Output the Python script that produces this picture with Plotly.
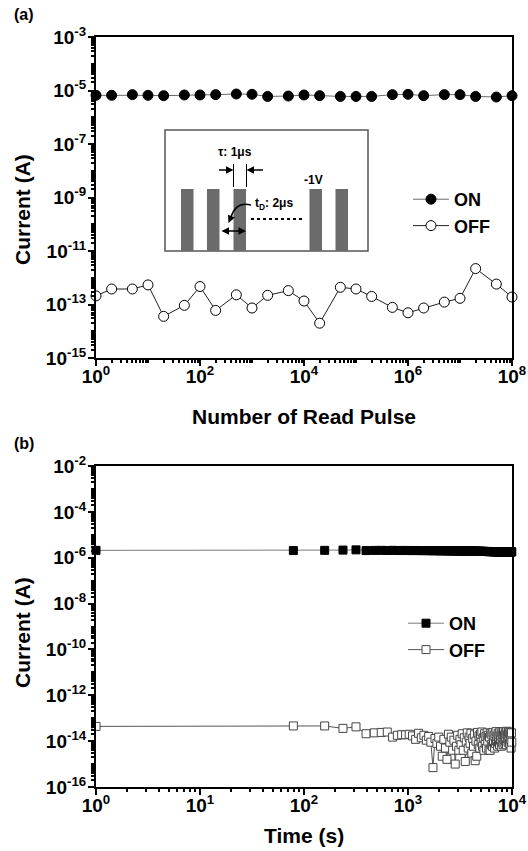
import plotly.graph_objects as go

# ---------------- panel (a): read-pulse endurance ----------------
pulses_a = [1, 2, 5, 10, 20, 50, 100, 200, 500, 1e3, 2e3, 5e3, 1e4, 2e4, 5e4,
            1e5, 2e5, 5e5, 1e6, 2e6, 5e6, 1e7, 2e7, 5e7, 1e8]
on_a = [6.6e-6, 6.6e-6, 7.0e-6, 6.6e-6, 6.4e-6, 6.8e-6, 6.8e-6, 7.0e-6, 7.4e-6,
        7.2e-6, 6.0e-6, 6.2e-6, 6.8e-6, 6.4e-6, 6.0e-6, 6.0e-6, 6.0e-6, 7.0e-6,
        7.2e-6, 6.4e-6, 7.0e-6, 7.0e-6, 6.0e-6, 5.7e-6, 6.4e-6]
off_a = [2.1e-13, 3.8e-13, 3.8e-13, 5.4e-13, 3.6e-14, 9.3e-14, 4.7e-13, 6.0e-14,
         2.3e-13, 7.4e-14, 2.2e-13, 3.3e-13, 1.35e-13, 2.0e-14, 4.4e-13, 3.8e-13,
         2.0e-13, 7.8e-14, 4.9e-14, 7.4e-14, 1.23e-13, 1.7e-13, 2.2e-12, 5.8e-13,
         1.9e-13]

# tick labels
xtick_exp_a = [0, 2, 4, 6, 8]
ytick_exp_a = [-15, -13, -11, -9, -7, -5, -3]
xtick_exp_b = [0, 1, 2, 3, 4]
ytick_exp_b = [-16, -14, -12, -10, -8, -6, -4, -2]

# ---------------- panel (b): retention ----------------
time_b = [1, 79, 158, 237, 316, 395, 474, 553, 632, 711, 790, 869, 948, 1027, 1106,
          1185, 1264, 1343, 1422, 1501, 1580, 1659, 1738, 1817, 1896, 1975, 2054,
          2133, 2212, 2291, 2370, 2449, 2528, 2607, 2686, 2765, 2844, 2923, 3002,
          3081, 3160, 3239, 3318, 3397, 3476, 3555, 3634, 3713, 3792, 3871, 3950,
          4029, 4108, 4187, 4266, 4345, 4424, 4503, 4582, 4661, 4740, 4819, 4898,
          4977, 5056, 5135, 5214, 5293, 5372, 5451, 5530, 5609, 5688, 5767, 5846,
          5925, 6004, 6083, 6162, 6241, 6320, 6399, 6478, 6557, 6636, 6715, 6794,
          6873, 6952, 7031, 7110, 7189, 7268, 7347, 7426, 7505, 7584, 7663, 7742,
          7821, 7900, 7979, 8058, 8137, 8216, 8295, 8374, 8453, 8532, 8611, 8690,
          8769, 8848, 8927, 9006, 9085, 9164, 9243, 9322, 9401, 9480, 9559, 9638,
          9717, 9796, 9875, 9954]
# ON current in microamps
on_b_uA = [2.10, 2.05, 2.10, 2.15, 2.20, 2.05, 2.08, 2.10, 2.06, 2.09,
           2.07, 2.05, 2.08, 2.06, 2.04, 2.07, 2.05, 2.03, 2.06, 2.04,
           2.02, 2.05, 2.03, 2.01, 2.04, 2.02, 2.00, 2.03, 2.01, 2.00,
           2.02, 2.00, 1.99, 2.01, 1.99, 1.98, 2.00, 1.98, 1.97, 1.99,
           1.97, 1.96, 1.98, 1.96, 1.95, 1.97, 1.95, 1.94, 1.96, 1.94,
           1.93, 1.95, 1.93, 1.92, 1.94, 1.92, 1.91, 1.93, 1.91, 1.90,
           1.92, 1.90, 1.89, 1.91, 1.89, 1.88, 1.90, 1.88, 1.87, 1.89,
           1.87, 1.86, 1.88, 1.86, 1.85, 1.87, 1.85, 1.84, 1.86, 1.84,
           1.85, 1.86, 1.84, 1.83, 1.85, 1.84, 1.82, 1.84, 1.83, 1.82,
           1.84, 1.82, 1.81, 1.83, 1.82, 1.83, 1.81, 1.83, 1.82, 1.80,
           1.82, 1.81, 1.80, 1.82, 1.81, 1.82, 1.80, 1.82, 1.81, 1.79,
           1.81, 1.80, 1.81, 1.79, 1.81, 1.80, 1.79, 1.81, 1.80, 1.80,
           1.79, 1.81, 1.80, 1.78, 1.80, 1.79, 1.80]
# OFF current in femtoamps
off_b_fA = [44, 46, 46, 36, 42, 21, 23, 24, 25, 15,
            18, 19, 19, 20, 17, 12, 22, 14, 18, 11,
            16, 9, 0.7, 13, 8, 15, 6, 2.2, 12, 5,
            1.6, 20, 9, 15, 4, 11, 1.0, 6, 18, 4,
            12, 7, 21, 4, 14, 1.3, 9, 23, 5, 15,
            8, 22, 3, 13, 6, 19, 1.4, 10, 2.2, 24,
            7, 17, 5, 20, 9, 25, 6, 14, 4, 21,
            8, 16, 5, 23, 10, 18, 4, 15, 4, 22,
            7, 19, 6, 24, 9, 17, 5, 21, 8, 26,
            10, 16, 6, 22, 9, 19, 7, 25, 11, 17,
            6, 23, 9, 20, 7, 26, 12, 18, 8, 24,
            10, 21, 7, 27, 13, 19, 9, 25, 11, 22,
            8, 24, 12, 20, 5, 23, 9]

on_b = [v * 1e-6 for v in on_b_uA]
off_b = [v * 1e-15 for v in off_b_fA]

# ---------------- layout geometry (pixels) ----------------
W, H = 528, 851
L, R, T, B = 96, 512, 37, 787          # outer plotting box
A_BOTTOM, B_TOP = 358, 466             # panel split


def fx(px):
    return (px - L) / (R - L)


def fy(py):
    return (B - py) / (B - T)


def pow_ticks(exps):
    vals = [10.0 ** e for e in exps]
    text = [f"10<sup>{e}</sup>" for e in exps]
    return vals, text


FONT = "Liberation Sans"
BLACK = "#000000"

fig = go.Figure()

fig.add_trace(go.Scatter(
    x=pulses_a, y=on_a, name="ON", mode="lines+markers", cliponaxis=False,
    line=dict(color="#6a6a6a", width=1),
    marker=dict(symbol="circle", size=10, color=BLACK, line=dict(color=BLACK, width=1)),
    xaxis="x", yaxis="y", legend="legend"))
fig.add_trace(go.Scatter(
    x=pulses_a, y=off_a, name="OFF", mode="lines+markers", cliponaxis=False,
    line=dict(color="#222222", width=1),
    marker=dict(symbol="circle", size=10, color="white", line=dict(color=BLACK, width=1)),
    xaxis="x", yaxis="y", legend="legend"))

fig.add_trace(go.Scatter(
    x=time_b, y=on_b, name="ON", mode="lines+markers", cliponaxis=False,
    line=dict(color="#7a7a7a", width=1),
    marker=dict(symbol="square", size=8, color=BLACK, line=dict(color=BLACK, width=1)),
    xaxis="x2", yaxis="y2", legend="legend2"))
fig.add_trace(go.Scatter(
    x=time_b, y=off_b, name="OFF", mode="lines+markers", cliponaxis=False,
    line=dict(color="#555555", width=1),
    marker=dict(symbol="square", size=8, color="white", line=dict(color="#444444", width=1)),
    xaxis="x2", yaxis="y2", legend="legend2"))

tickfont = dict(family=FONT, size=19, color=BLACK, weight="bold")
axis_common = dict(
    type="log", showline=True, linecolor=BLACK, linewidth=2, mirror=True,
    ticks="outside", ticklen=6, tickwidth=2, tickcolor=BLACK, automargin=False,
    showgrid=False, zeroline=False, tickfont=tickfont, tickmode="array",
    minor=dict(ticks="outside", ticklen=3, tickwidth=1.5, tickcolor=BLACK,
               tickmode="linear", tick0=0, dtick="D1", showgrid=False),
)

xa_v, xa_t = pow_ticks(xtick_exp_a)
ya_v, ya_t = pow_ticks(ytick_exp_a)
xb_v, xb_t = pow_ticks(xtick_exp_b)
yb_v, yb_t = pow_ticks(ytick_exp_b)

fig.update_layout(
    width=W, height=H,
    margin=dict(l=L, r=W - R, t=T, b=H - B, pad=0),
    paper_bgcolor="white", plot_bgcolor="white",
    xaxis=dict(axis_common, domain=[0, 1], anchor="y", range=[0, 8],
               tickvals=xa_v, ticktext=xa_t, ticklabelstandoff=-6),
    yaxis=dict(axis_common, domain=[fy(A_BOTTOM), 1], anchor="x", range=[-15, -3],
               tickvals=ya_v, ticktext=ya_t, ticklabelstandoff=-2),
    xaxis2=dict(axis_common, domain=[0, 1], anchor="y2", range=[0, 4],
                tickvals=xb_v, ticktext=xb_t, ticklabelstandoff=-6),
    yaxis2=dict(axis_common, domain=[0, fy(B_TOP)], anchor="x2", range=[-16, -2],
                tickvals=yb_v, ticktext=yb_t, ticklabelstandoff=-2),
    legend=dict(x=fx(408), y=fy(181), xanchor="left", yanchor="top",
                bgcolor="rgba(0,0,0,0)", font=dict(family=FONT, size=18, color=BLACK, weight="bold"),
                itemwidth=36, tracegroupgap=0),
    legend2=dict(x=fx(403), y=fy(605), xanchor="left", yanchor="top",
                 bgcolor="rgba(0,0,0,0)", font=dict(family=FONT, size=18, color=BLACK, weight="bold"),
                 itemwidth=36, tracegroupgap=0),
    showlegend=True,
)

ann = []
title_font = dict(family=FONT, size=21, color=BLACK, weight="bold")
label_font = dict(family=FONT, size=16, color=BLACK, weight="bold")

ann.append(dict(text="(a)", x=fx(12), y=fy(15), xref="paper", yref="paper",
                xanchor="left", yanchor="middle", showarrow=False, font=label_font))
ann.append(dict(text="(b)", x=fx(12), y=fy(443), xref="paper", yref="paper",
                xanchor="left", yanchor="middle", showarrow=False, font=label_font))
ann.append(dict(text="Number of Read Pulse", x=fx(304), y=fy(417), xref="paper", yref="paper",
                xanchor="center", yanchor="middle", showarrow=False, font=title_font))
ann.append(dict(text="Time (s)", x=fx(304), y=fy(836), xref="paper", yref="paper",
                xanchor="center", yanchor="middle", showarrow=False, font=title_font))
ann.append(dict(text="Current (A)", x=fx(22), y=fy(210), xref="paper", yref="paper",
                xanchor="center", yanchor="middle", textangle=-90, showarrow=False,
                font=title_font))
ann.append(dict(text="Current (A)", x=fx(22), y=fy(633), xref="paper", yref="paper",
                xanchor="center", yanchor="middle", textangle=-90, showarrow=False,
                font=title_font))

# ---------------- read-pulse inset in panel (a) ----------------
shapes = []
shapes.append(dict(type="rect", xref="paper", yref="paper",
                   x0=fx(165), x1=fx(368), y0=fy(251), y1=fy(130),
                   line=dict(color="#555555", width=1.5), fillcolor="white", layer="above"))
for x0 in [181, 207, 233.5, 309.5, 335.5]:
    shapes.append(dict(type="rect", xref="paper", yref="paper",
                       x0=fx(x0), x1=fx(x0 + 12.5), y0=fy(251), y1=fy(189),
                       line=dict(width=0), fillcolor="#6b6b6b", layer="above"))
# pulse-width guides
for xg in [233.5, 246.5]:
    shapes.append(dict(type="line", xref="paper", yref="paper",
                       x0=fx(xg), x1=fx(xg), y0=fy(164), y1=fy(187),
                       line=dict(color=BLACK, width=1), layer="above"))
# dotted continuation
shapes.append(dict(type="line", xref="paper", yref="paper",
                   x0=fx(251), x1=fx(303), y0=fy(219), y1=fy(219),
                   line=dict(color=BLACK, width=2, dash="dot"), layer="above"))
# curved pointer from the delay label
shapes.append(dict(type="path", xref="paper", yref="paper",
                   path=f"M {fx(251)} {fy(205)} Q {fx(236)} {fy(201)} {fx(231)} {fy(217)}",
                   line=dict(color=BLACK, width=1.5), layer="above"))

inset_font = dict(family=FONT, size=12, color=BLACK, weight="bold")
ann.append(dict(text="τ: 1μs", x=fx(235), y=fy(152), xref="paper", yref="paper",
                xanchor="center", yanchor="middle", showarrow=False, font=inset_font))
ann.append(dict(text="-1V", x=fx(313), y=fy(180), xref="paper", yref="paper",
                xanchor="center", yanchor="middle", showarrow=False, font=inset_font))
ann.append(dict(text="t<sub>D</sub>: 2μs", x=fx(253), y=fy(204), xref="paper", yref="paper",
                xanchor="left", yanchor="middle", showarrow=False, font=inset_font))

arrow_common = dict(xref="paper", yref="paper", text="", showarrow=True,
                    arrowhead=2, arrowsize=1, arrowwidth=1.5, arrowcolor=BLACK,
                    standoff=0, startstandoff=0)
ann.append(dict(arrow_common, x=fx(233.5), y=fy(170), ax=-16, ay=0))
ann.append(dict(arrow_common, x=fx(246.5), y=fy(170), ax=18, ay=0))
ann.append(dict(arrow_common, x=fx(246), y=fy(231), ax=-26, ay=0, arrowside="end+start"))
ann.append(dict(arrow_common, x=fx(228.5), y=fy(223), ax=3, ay=-7))

fig.update_layout(annotations=ann, shapes=shapes)

fig.write_html("out.html")
